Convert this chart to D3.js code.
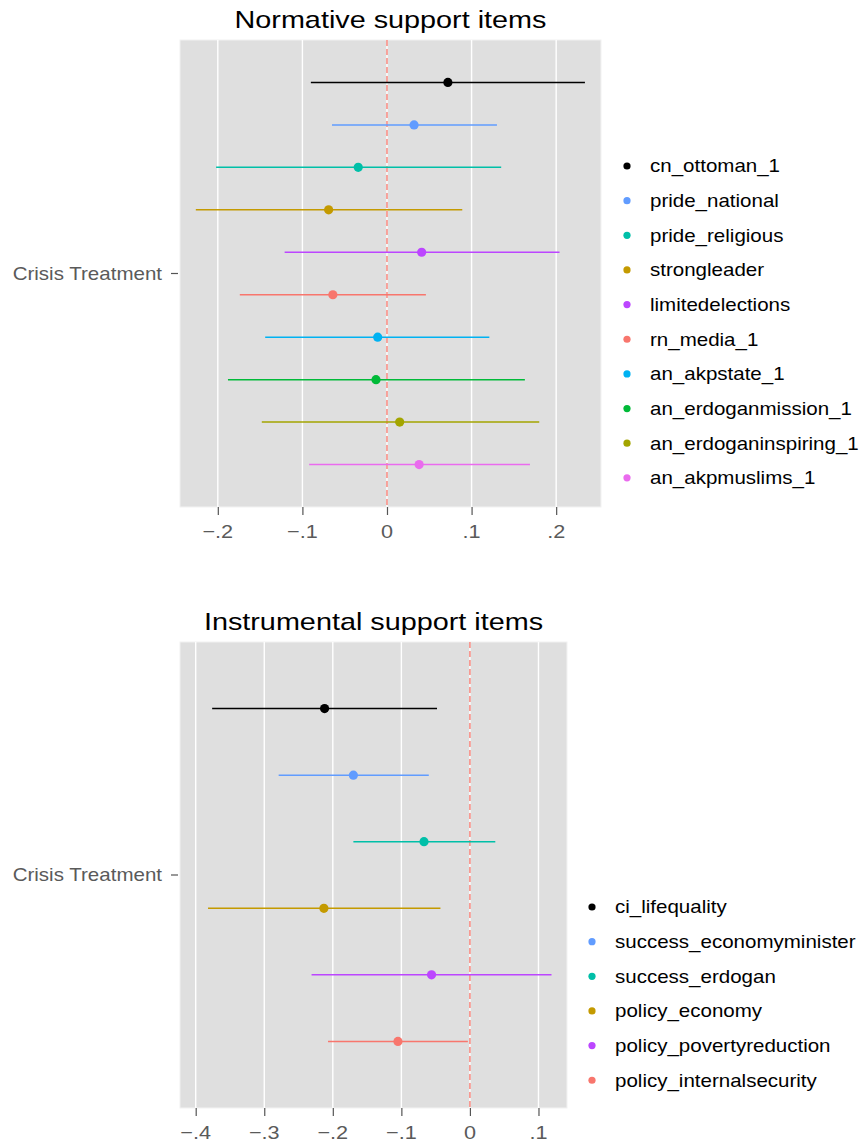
<!DOCTYPE html>
<html>
<head>
<meta charset="utf-8">
<script src="https://cdn.jsdelivr.net/npm/d3@7"></script>
<style>
  body { margin: 0; background: #fff; }
  svg { display: block; font-family: "Liberation Sans", Arial, Helvetica, sans-serif; }
</style>
</head>
<body>
<div id="chart"></div>
<script>
const w = 862;
const h = 1146;

// top panel: normative support items
const normItems = ["cn_ottoman_1", "pride_national", "pride_religious", "strongleader", "limitedelections",
                   "rn_media_1", "an_akpstate_1", "an_erdoganmission_1", "an_erdoganinspiring_1", "an_akpmuslims_1"];
const normEst = [0.072, 0.032, -0.034, -0.069, 0.041, -0.064, -0.011, -0.013, 0.015, 0.038];
const normLo  = [-0.090, -0.065, -0.202, -0.226, -0.121, -0.174, -0.144, -0.188, -0.148, -0.092];
const normHi  = [0.234, 0.130, 0.135, 0.089, 0.204, 0.046, 0.121, 0.163, 0.180, 0.169];
const normColors = ["#000000", "#619CFF", "#00BFA8", "#C49A00", "#BC46FF",
                    "#F8766D", "#00B2F2", "#00BA38", "#A3A500", "#EA6BEE"];
const normTicks = [-0.2, -0.1, 0, 0.1, 0.2];

// bottom panel: instrumental support items
const instItems = ["ci_lifequality", "success_economyminister", "success_erdogan",
                   "policy_economy", "policy_povertyreduction", "policy_internalsecurity"];
const instEst = [-0.212, -0.170, -0.067, -0.213, -0.056, -0.105];
const instLo  = [-0.376, -0.279, -0.170, -0.382, -0.231, -0.207];
const instHi  = [-0.048, -0.060, 0.037, -0.043, 0.119, -0.003];
const instColors = ["#000000", "#619CFF", "#00BFA8", "#C49A00", "#BC46FF", "#F8766D"];
const instTicks = [-0.4, -0.3, -0.2, -0.1, 0, 0.1];

const yLabel = "Crisis Treatment";

// the reference text is a bit wider than Liberation Sans, stretch it
const stretch = 1.14;
const titleStretch = 1.2;

let svg = d3.select("#chart").append("svg")
    .attr("width", w)
    .attr("height", h);

function fmt(v) {
    let s = d3.format(".1f")(v);
    if (s === "0.0" || s === "-0.0") return "0";
    return s.replace("0.", ".");
}

function addText(parent, x, y, str, size, anchor, color, sx) {
    return parent.append("g")
        .attr("transform", "translate(" + x + "," + y + ") scale(" + sx + ",1)")
        .append("text")
        .attr("text-anchor", anchor)
        .attr("dy", "0.35em")
        .attr("font-size", size)
        .attr("fill", color)
        .text(str);
}

function drawPanel(opt) {
    let xScale = d3.scaleLinear()
        .domain(opt.domain)
        .range([opt.left, opt.right]);

    let yScale = d3.scalePoint()
        .domain(opt.items)
        .range([opt.top, opt.bottom])
        .padding(1);

    let g = svg.append("g");

    addText(g, (opt.left + opt.right) / 2, opt.top - 20, opt.title, 24, "middle", "#000", titleStretch);

    g.append("rect")
        .attr("x", opt.left)
        .attr("y", opt.top)
        .attr("width", opt.right - opt.left)
        .attr("height", opt.bottom - opt.top)
        .attr("fill", "#dfdfdf")
        .attr("stroke", "#f2f2f2")
        .attr("stroke-width", 1);

    g.selectAll(".grid")
        .data(opt.ticks)
        .enter().append("line")
        .attr("x1", d => xScale(d))
        .attr("x2", d => xScale(d))
        .attr("y1", opt.top)
        .attr("y2", opt.bottom)
        .attr("stroke", "#fff")
        .attr("stroke-width", 1.4);

    // x axis
    let xAxis = g.append("g")
        .attr("transform", "translate(0," + opt.bottom + ")")
        .call(d3.axisBottom(xScale).tickValues(opt.ticks).tickFormat("").tickSize(8));
    xAxis.select(".domain").remove();
    xAxis.selectAll(".tick line").attr("stroke", "#555").attr("stroke-width", 1.2);
    opt.ticks.forEach(t => {
        addText(g, xScale(t), opt.bottom + 24, fmt(t), 19, "middle", "#5a5a5a", stretch);
    });

    // y axis label, single category
    let yMid = (opt.top + opt.bottom) / 2;
    g.append("line")
        .attr("x1", opt.left - 9)
        .attr("x2", opt.left - 2)
        .attr("y1", yMid)
        .attr("y2", yMid)
        .attr("stroke", "#555")
        .attr("stroke-width", 1.2);
    addText(g, opt.left - 18, yMid, yLabel, 18, "end", "#5a5a5a", stretch);

    // zero reference line
    g.append("line")
        .attr("x1", xScale(0))
        .attr("x2", xScale(0))
        .attr("y1", opt.top)
        .attr("y2", opt.bottom)
        .attr("stroke", "#F8877E")
        .attr("stroke-width", 1.5)
        .attr("stroke-dasharray", "6,3");

    let rows = opt.items.map((d, i) => ({ item: d, est: opt.est[i], lo: opt.lo[i], hi: opt.hi[i], color: opt.colors[i] }));

    g.selectAll(".ci")
        .data(rows)
        .enter().append("line")
        .attr("x1", d => xScale(d.lo))
        .attr("x2", d => xScale(d.hi))
        .attr("y1", d => yScale(d.item))
        .attr("y2", d => yScale(d.item))
        .attr("stroke", d => d.color)
        .attr("stroke-width", 1.5);

    g.selectAll(".pt")
        .data(rows)
        .enter().append("circle")
        .attr("cx", d => xScale(d.est))
        .attr("cy", d => yScale(d.item))
        .attr("r", 4.6)
        .attr("fill", d => d.color);

    // legend
    rows.forEach((d, i) => {
        let ly = opt.legY + i * 34.65;
        g.append("circle")
            .attr("cx", opt.legX)
            .attr("cy", ly)
            .attr("r", 3.6)
            .attr("fill", d.color);
        addText(g, opt.legX + 23, ly, d.item, 18, "start", "#000", stretch);
    });
}

drawPanel({
    title: "Normative support items",
    items: normItems, est: normEst, lo: normLo, hi: normHi, colors: normColors,
    ticks: normTicks,
    domain: [-0.2447, 0.2530],
    left: 180, right: 601, top: 40, bottom: 507,
    legX: 627, legY: 166
});

drawPanel({
    title: "Instrumental support items",
    items: instItems, est: instEst, lo: instLo, hi: instHi, colors: instColors,
    ticks: instTicks,
    domain: [-0.4229, 0.1416],
    left: 180, right: 567, top: 642, bottom: 1108,
    legX: 592, legY: 907
});
</script>
</body>
</html>
